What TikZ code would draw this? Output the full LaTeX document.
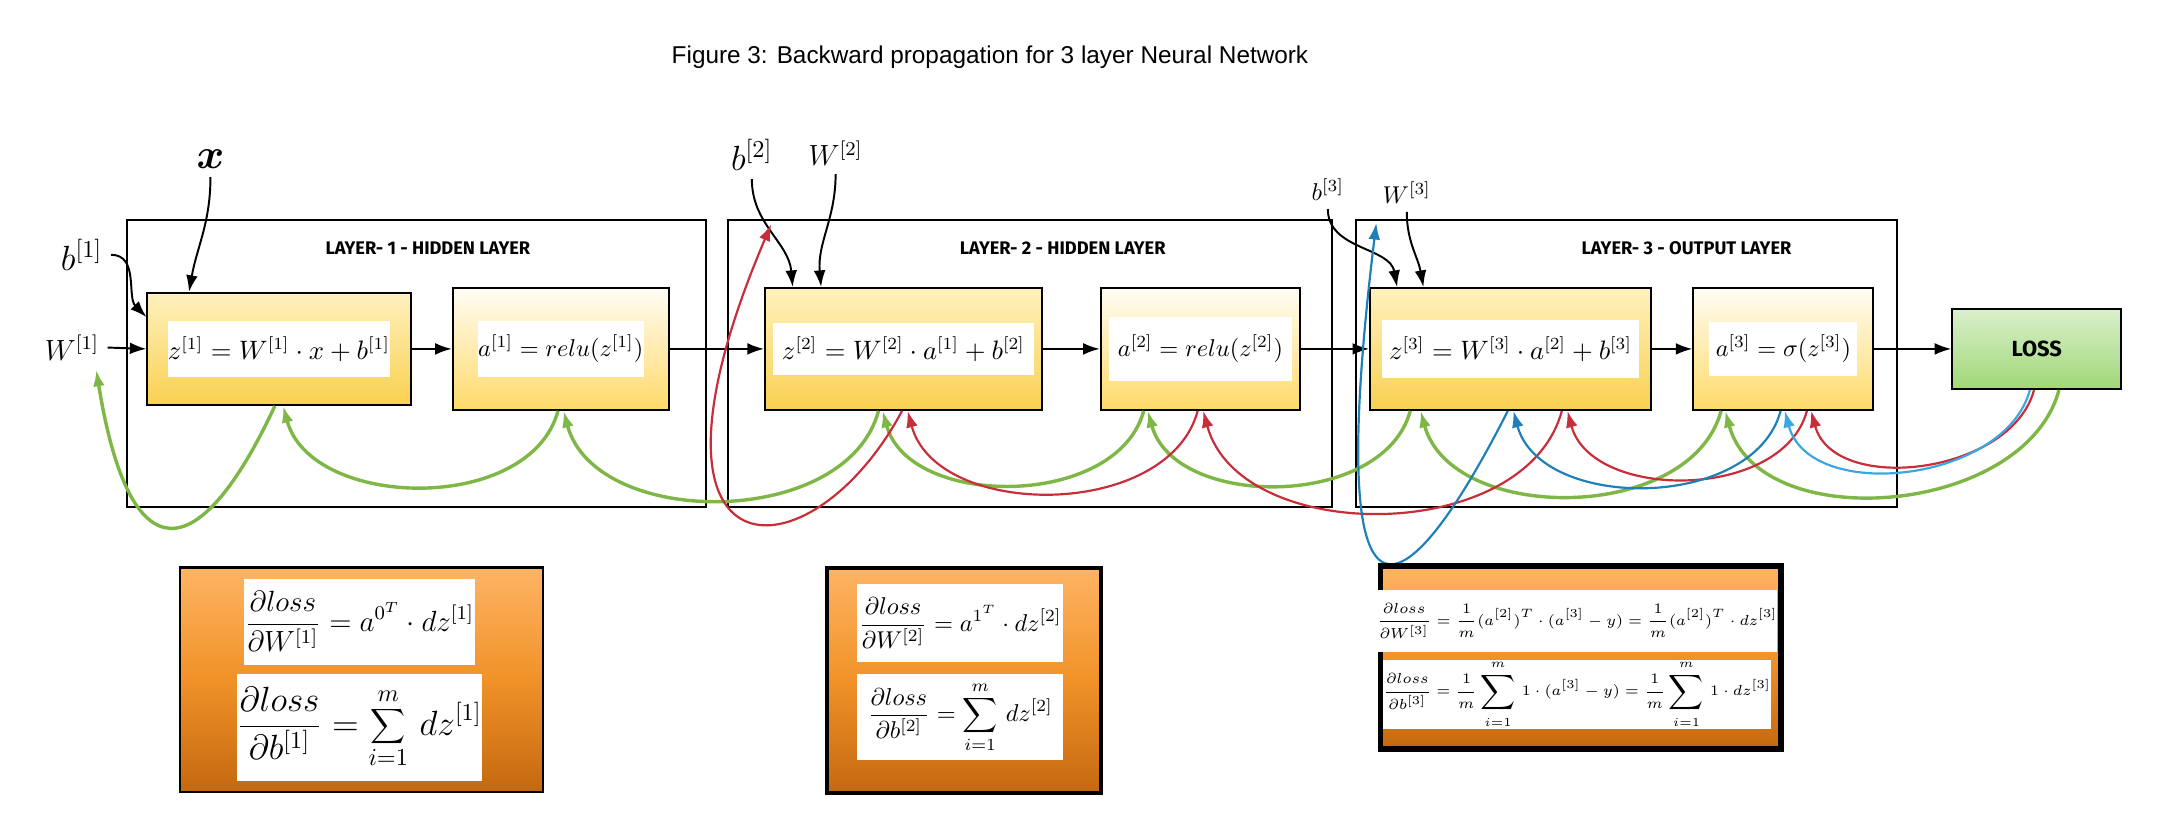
\documentclass[tikz,border=0pt]{standalone}
\usepackage{fontspec}
\usetikzlibrary{arrows.meta}
\newfontfamily\titlefont{Liberation Sans}
\newfontfamily\layerfont{Fira Sans}
\definecolor{ztop}{RGB}{255,241,190}
\definecolor{zbot}{RGB}{249,208,80}
\definecolor{atop}{RGB}{255,253,245}
\definecolor{abot}{RGB}{255,218,105}
\definecolor{losstop}{RGB}{218,240,205}
\definecolor{lossbot}{RGB}{160,215,118}
\definecolor{ortop}{RGB}{255,180,100}
\definecolor{ormid}{RGB}{240,146,40}
\definecolor{orbot}{RGB}{196,104,16}
\definecolor{bgreen}{RGB}{127,183,70}
\definecolor{bred}{RGB}{200,45,58}
\definecolor{bblue}{RGB}{31,128,184}
\definecolor{lblue}{RGB}{58,168,224}
\tikzset{
	layerframe/.style={line width=0.8pt},
	layertitle/.style={font=\layerfont\bfseries\fontsize{7.5}{9}\selectfont},
	zbox/.style={draw, line width=0.8pt, top color=ztop, bottom color=zbot, minimum height=1.76cm},
	abox/.style={draw, line width=0.8pt, top color=atop, bottom color=abot, minimum height=1.76cm},
	lossbox/.style={draw, line width=0.8pt, top color=losstop, bottom color=lossbot, minimum width=2.44cm, minimum height=1.16cm, font=\layerfont\bfseries\fontsize{9}{10}\selectfont},
	gradbox/.style={draw, top color=ortop, bottom color=orbot, middle color=ormid},
	eqbox/.style={fill=white, inner sep=0pt},
	zeq/.style={eqbox, font=\fontsize{10.5}{12}\selectfont},
	aeq/.style={eqbox, font=\normalsize},
	fwd/.style={->, line width=0.8pt},
	gback/.style={->, line width=1.4pt, draw=bgreen},
	rback/.style={->, line width=0.9pt, draw=bred},
	bback/.style={->, line width=0.9pt, draw=bblue},
	lback/.style={->, line width=0.9pt, draw=lblue},
	backarc/.style={out=-105, in=-75}
}
\begin{document}
\begin{tikzpicture}[>={Latex[length=2.4mm,width=1.7mm]}]
	\useasboundingbox (0,0) rectangle (31.2,11.94);
	\node[font=\titlefont\fontsize{10}{12}\selectfont] (title) at (14.3,11.12) {Figure 3: Backward propagation for 3 layer Neural Network};
	% layers
	\draw[layerframe] (1.84,4.62) rectangle (10.2,8.76);
	\draw[layerframe] (10.52,4.62) rectangle (19.24,8.76);
	\draw[layerframe] (19.58,4.62) rectangle (27.4,8.76);
	\node[layertitle] (t1) at (6.18,8.36) {LAYER- 1 - HIDDEN LAYER};
	\node[layertitle] (t2) at (15.35,8.36) {LAYER- 2 - HIDDEN LAYER};
	\node[layertitle] (t3) at (24.36,8.36) {LAYER- 3 - OUTPUT LAYER};
	% forward nodes
	\node[zbox, minimum width=3.8cm, minimum height=1.62cm] (z1) at (4.03,6.9) {};
	\node[zeq, minimum width=3.2cm, minimum height=0.8cm] (ez1) at (z1) {$z^{[1]} = W^{[1]}\cdot x + b^{[1]}$};
	\node[abox, minimum width=3.12cm] (a1) at (8.1,6.9) {};
	\node[aeq, minimum width=2.4cm, minimum height=0.82cm] (ea1) at (a1) {$a^{[1]} = relu(z^{[1]})$};
	\node[zbox, minimum width=4cm] (z2) at (13.05,6.9) {};
	\node[zeq, minimum width=3.76cm, minimum height=0.74cm] (ez2) at (z2) {$z^{[2]} = W^{[2]}\cdot a^{[1]} + b^{[2]}$};
	\node[abox, minimum width=2.88cm] (a2) at (17.34,6.9) {};
	\node[aeq, minimum width=2.64cm, minimum height=0.92cm] (ea2) at (a2) {$a^{[2]} = relu(z^{[2]})$};
	\node[zbox, minimum width=4.06cm] (z3) at (21.82,6.9) {};
	\node[zeq, minimum width=3.72cm, minimum height=0.84cm] (ez3) at (z3) {$z^{[3]} = W^{[3]}\cdot a^{[2]} + b^{[3]}$};
	\node[abox, minimum width=2.6cm] (a3) at (25.76,6.9) {};
	\node[aeq, minimum width=2.14cm, minimum height=0.78cm] (ea3) at (a3) {$a^{[3]} = \sigma(z^{[3]})$};
	\node[lossbox] (loss) at (29.42,6.9) {LOSS};
	\draw[fwd] (z1.east) -- (a1.west);
	\draw[fwd] (a1.east) -- (z2.west);
	\draw[fwd] (z2.east) -- (a2.west);
	\draw[fwd] (a2.east) -- (z3.west);
	\draw[fwd] (z3.east) -- (a3.west);
	\draw[fwd] (a3.east) -- (loss.west);
	% inputs
	\node[font=\LARGE\boldmath] (x) at (3.04,9.64) {$x$};
	\node[font=\Large] (b1) at (1.18,8.26) {$b^{[1]}$};
	\node[font=\large] (W1) at (1.04,6.92) {$W^{[1]}$};
	\node[font=\Large] (b2) at (10.86,9.7) {$b^{[2]}$};
	\node[font=\large] (W2) at (12.07,9.73) {$W^{[2]}$};
	\node[font=\normalsize] (b3) at (19.18,9.2) {$b^{[3]}$};
	\node[font=\normalsize] (W3) at (20.32,9.16) {$W^{[3]}$};
	\draw[fwd] (x.south) to[out=-90,in=80] ([xshift=-1.3cm]z1.north);
	\draw[fwd] (b1.east) to[out=0,in=135] ([yshift=0.46cm]z1.west);
	\draw[fwd] (W1.east) -- (z1.west);
	\draw[fwd] (b2.south) to[out=-90,in=95] ([xshift=-1.6cm]z2.north);
	\draw[fwd] (W2.south) to[out=-90,in=95] ([xshift=-1.19cm]z2.north);
	\draw[fwd] (b3.south) to[out=-90,in=100] ([xshift=-1.64cm]z3.north);
	\draw[fwd] (W3.south) to[out=-90,in=100] ([xshift=-1.26cm]z3.north);
	% backward
	\coordinate (W1end) at (1.39,6.6);
	\coordinate (b2end) at (11.14,8.7);
	\coordinate (W3end) at (19.88,8.72);
	\draw[gback] ([xshift=0.32cm]loss.south) to[backarc] ([xshift=-0.84cm]a3.south);
	\draw[gback] ([xshift=-0.9cm]a3.south) to[backarc] ([xshift=-1.3cm]z3.south);
	\draw[gback] ([xshift=-1.45cm]z3.south) to[backarc] ([xshift=-0.76cm]a2.south);
	\draw[gback] ([xshift=-0.82cm]a2.south) to[backarc] ([xshift=-0.3cm]z2.south);
	\draw[gback] ([xshift=-0.36cm]z2.south) to[backarc] ([xshift=0.04cm]a1.south);
	\draw[gback] ([xshift=-0.04cm]a1.south) to[backarc] ([xshift=0.06cm]z1.south);
	\draw[gback] ([xshift=-0.06cm]z1.south) .. controls +(-1.1,-2.36) and +(0.48,-2.98) .. (W1end);
	\draw[rback] ([xshift=-0.04cm]loss.south) to[backarc] ([xshift=0.4cm]a3.south);
	\draw[rback] ([xshift=0.34cm]a3.south) to[backarc] ([xshift=0.82cm]z3.south);
	\draw[rback] ([xshift=0.74cm]z3.south) to[backarc] ([xshift=0.04cm]a2.south);
	\draw[rback] ([xshift=-0.04cm]a2.south) to[backarc] ([xshift=0.06cm]z2.south);
	\draw[rback] ([xshift=-0.02cm]z2.south) .. controls +(-1.32,-2.48) and +(-2.24,-5.26) .. (b2end);
	\draw[lback] ([xshift=-0.1cm]loss.south) to[backarc] ([xshift=0.02cm]a3.south);
	\draw[bback] ([xshift=-0.04cm]a3.south) to[backarc] ([xshift=0.04cm]z3.south);
	\draw[bback] ([xshift=-0.04cm]z3.south) .. controls +(-1.36,-2.68) and +(-0.82,-6.74) .. (W3end);
	% gradients
	\node[gradbox, line width=1pt, minimum width=5.24cm, minimum height=3.24cm] (g1) at (5.22,2.12) {};
	\node[eqbox, minimum width=3.34cm, minimum height=1.24cm, font=\large] (dLdW1) at (5.19,2.96) {$\displaystyle\frac{\partial loss}{\partial W^{[1]}} = a^{0^T}\cdot dz^{[1]}$};
	\node[eqbox, minimum width=3.34cm, minimum height=1.54cm, font=\Large] (dLdb1) at (5.19,1.43) {$\displaystyle\frac{\partial loss}{\partial b^{[1]}} = \sum_{i=1}^{m}\, dz^{[1]}$};
	\node[gradbox, line width=1.6pt, minimum width=3.96cm, minimum height=3.26cm] (g2) at (13.92,2.11) {};
	\node[eqbox, minimum width=2.98cm, minimum height=1.12cm] (dLdW2) at (13.87,2.94) {$\displaystyle\frac{\partial loss}{\partial W^{[2]}} = a^{1^T}\cdot dz^{[2]}$};
	\node[eqbox, minimum width=2.98cm, minimum height=1.24cm] (dLdb2) at (13.87,1.58) {$\displaystyle\frac{\partial loss}{\partial b^{[2]}} = \sum_{i=1}^{m}\, dz^{[2]}$};
	\node[gradbox, line width=2.4pt, minimum width=5.78cm, minimum height=2.64cm] (g3) at (22.83,2.44) {};
	\node[eqbox, minimum width=5.48cm, minimum height=0.9cm, font=\fontsize{6.2}{7.5}\selectfont] (dLdW3) at (22.78,2.97) {$\displaystyle\frac{\partial loss}{\partial W^{[3]}} = \frac{1}{m}(a^{[2]})^T\cdot(a^{[3]}-y) = \frac{1}{m}(a^{[2]})^T\cdot dz^{[3]}$};
	\node[eqbox, minimum width=5.48cm, minimum height=0.98cm, font=\fontsize{6.2}{7.5}\selectfont] (dLdb3) at (22.78,1.91) {$\displaystyle\frac{\partial loss}{\partial b^{[3]}} = \frac{1}{m}\sum_{i=1}^{m}\, 1\cdot(a^{[3]}-y) = \frac{1}{m}\sum_{i=1}^{m}\, 1\cdot dz^{[3]}$};
\end{tikzpicture}
\end{document}
